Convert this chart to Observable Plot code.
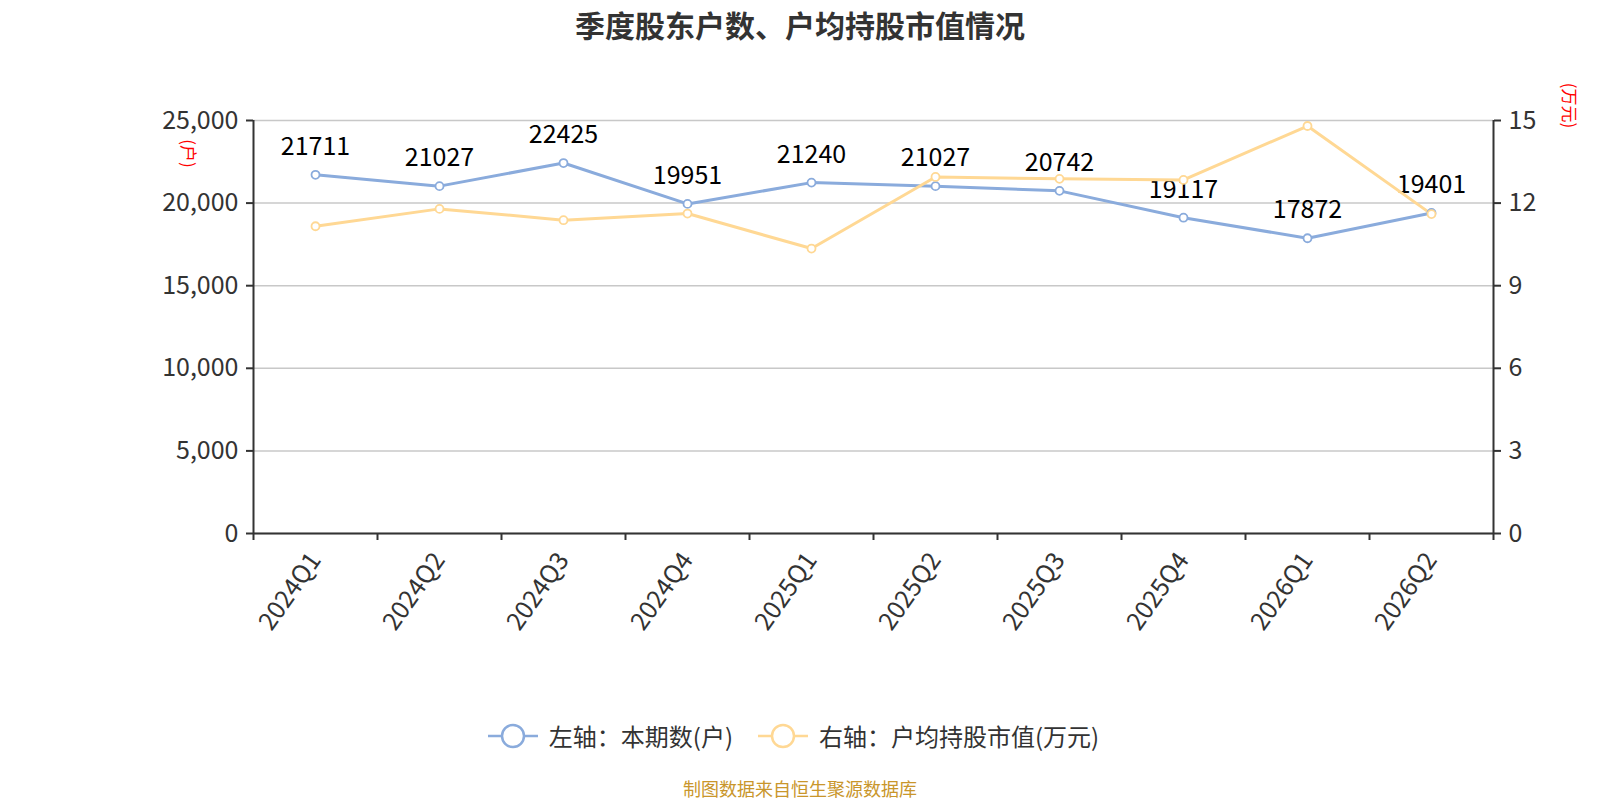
<!DOCTYPE html>
<html>
<head>
<meta charset="utf-8">
<script src="https://cdn.jsdelivr.net/npm/d3@7"></script>
<script src="https://cdn.jsdelivr.net/npm/@observablehq/plot@0.6"></script>
<style>
  html, body { margin: 0; padding: 0; background: #fff; }
  body { font-family: "Noto Sans CJK SC", "Noto Sans", sans-serif; }
  #wrap { position: relative; width: 1600px; height: 800px; overflow: hidden; }
  #title { position: absolute; top: 2px; left: 0; width: 1600px; text-align: center; font-size: 30px; font-weight: bold; color: #333; }
  #chart { position: absolute; top: 0; left: 0; }
  .unit { position: absolute; color: #f00; font-size: 17px; line-height: 25px; transform: rotate(90deg); transform-origin: center; white-space: nowrap; }
  #legend { position: absolute; top: 718px; left: 0; width: 1586px; display: flex; justify-content: center; align-items: center; font-size: 24px; color: #333; }
  #legend .item { display: flex; align-items: center; margin: 0 12px; }
  #legend svg { margin-right: 10px; }
  #caption { position: absolute; top: 775px; left: 0; width: 1600px; text-align: center; font-size: 18px; color: #c9962b; }
</style>
</head>
<body>
<div id="wrap">
  <div id="title">季度股东户数、户均持股市值情况</div>
  <div id="chart"></div>
  <div class="unit" id="unitL" style="left:175px; top:141px;">(户)</div>
  <div class="unit" id="unitR" style="left:1548px; top:93px;">(万元)</div>
  <div id="legend"></div>
  <div id="caption">制图数据来自恒生聚源数据库</div>
</div>
<script>
const quarters = ["2024Q1","2024Q2","2024Q3","2024Q4","2025Q1","2025Q2","2025Q3","2025Q4","2026Q1","2026Q2"];
const holders = [21711,21027,22425,19951,21240,21027,20742,19117,17872,19401];
const avgValue = [11.16,11.79,11.38,11.62,10.35,12.95,12.88,12.84,14.80,11.60];
const leftTicks = [0,5000,10000,15000,20000,25000];
const rightTicks = [0,3,6,9,12,15];
const seriesNames = ["左轴：本期数(户)", "右轴：户均持股市值(万元)"];
const colors = ["#8aabdc", "#ffd894"];

const k = 25000 / 15;
const dataA = quarters.map((q, i) => ({i, q, v: holders[i]}));
const dataB = quarters.map((q, i) => ({i, q, v: avgValue[i] * k}));

const chart = Plot.plot({
  width: 1600,
  height: 700,
  marginLeft: 253,
  marginRight: 107,
  marginTop: 120,
  marginBottom: 167,
  x: {domain: [-0.5, 9.5]},
  y: {domain: [0, 25000]},
  style: {fontFamily: "'Noto Sans CJK SC', 'Noto Sans', sans-serif", fontSize: "25px", color: "#333", background: "transparent"},
  marks: [
    Plot.gridY(leftTicks, {stroke: "#c8c8c8", strokeOpacity: 1, strokeWidth: 1.5}),
    Plot.axisY(leftTicks, {anchor: "left", tickFormat: d3.format(","), tickSize: 7, tickPadding: 8, label: null, stroke: "#333", strokeWidth: 2, fill: "#333", fontSize: 25}),
    Plot.axisY(rightTicks.map(v => v * k), {anchor: "right", tickFormat: d => String(Math.round(d / k)), tickSize: 7, tickPadding: 8, label: null, stroke: "#333", strokeWidth: 2, fill: "#333", fontSize: 25}),
    Plot.ruleX([-0.5, 9.5], {stroke: "#333", strokeWidth: 2}),
    Plot.ruleY([0], {stroke: "#333", strokeWidth: 2}),
    Plot.axisX(d3.range(11).map(i => i - 0.5), {tickFormat: () => "", tickSize: 7, label: null, stroke: "#333", strokeWidth: 2}),
    Plot.axisX(d3.range(10), {tickFormat: i => quarters[i], tickSize: 0, tickPadding: 22, tickRotate: -55, label: null, fill: "#333", fontSize: 25}),
    Plot.line(dataA, {x: "i", y: "v", stroke: colors[0], strokeWidth: 3}),
    Plot.text(dataA, {x: "i", y: "v", text: d => String(d.v), lineAnchor: "bottom", dy: -20, fill: "#000", fontSize: 25}),
    Plot.line(dataB, {x: "i", y: "v", stroke: colors[1], strokeWidth: 3}),
    Plot.dot(dataA, {x: "i", y: "v", r: 4, fill: "#fff", stroke: colors[0], strokeWidth: 1.8}),
    Plot.dot(dataB, {x: "i", y: "v", r: 4, fill: "#fff", stroke: colors[1], strokeWidth: 1.8})
  ]
});
document.getElementById("chart").appendChild(chart);

const legend = document.getElementById("legend");
seriesNames.forEach((name, idx) => {
  const item = document.createElement("div");
  item.className = "item";
  item.innerHTML = `<svg width="52" height="28"><line x1="1" y1="14" x2="51" y2="14" stroke="${colors[idx]}" stroke-width="2.5"/><circle cx="26" cy="14" r="11" fill="#fff" stroke="${colors[idx]}" stroke-width="2.5"/></svg><span>${name}</span>`;
  legend.appendChild(item);
});
</script>
</body>
</html>
